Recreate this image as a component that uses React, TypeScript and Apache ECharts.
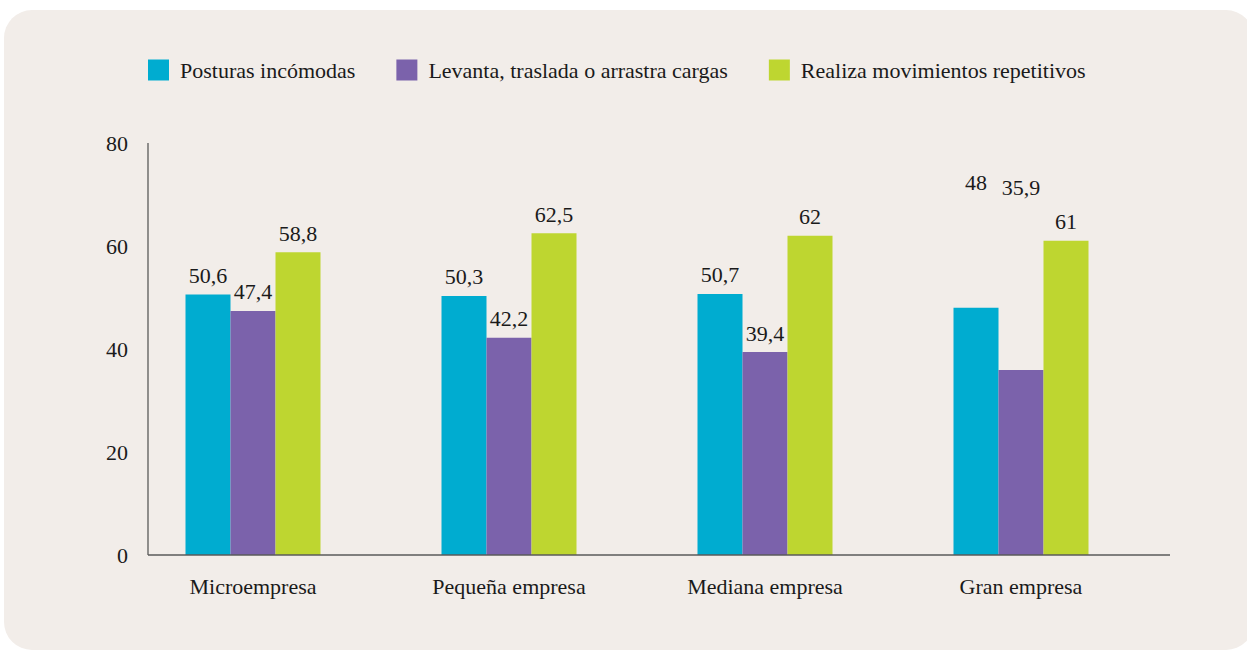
import React, { useEffect, useRef } from "react";
import * as echarts from "echarts";

const categories = ["Microempresa", "Pequeña empresa", "Mediana empresa", "Gran empresa"];
const seriesNames = [
  "Posturas incómodas",
  "Levanta, traslada o arrastra cargas",
  "Realiza movimientos repetitivos",
];
const posturas = [50.6, 50.3, 50.7, 48];
const levanta = [47.4, 42.2, 39.4, 35.9];
const repetitivos = [58.8, 62.5, 62, 61];
const colors = ["#00acd0", "#7b62ab", "#bed630"];
// label offsets reproduce the displaced labels of the reference (Gran empresa)
const labelOffsets: number[][][] = [
  [[0, 0], [0, 0], [0, 0], [0, -106]],
  [[0, 0], [0, 0], [0, 0], [0, -164]],
  [[0, 0], [0, 0], [0, 0], [0, 0]],
];

const FONT = "'Liberation Serif', 'Times New Roman', serif";

export default function App() {
  const ref = useRef<HTMLDivElement>(null);
  useEffect(() => {
    if (!ref.current) return;
    const chart = echarts.init(ref.current, null, { renderer: "svg" });
    const allData = [posturas, levanta, repetitivos];
    const fmt = (v: number) => String(v).replace(".", ",");
    chart.setOption({
      animation: false,
      backgroundColor: "#ffffff",
      textStyle: { fontFamily: FONT },
      graphic: [
        {
          type: "rect",
          z: -10,
          silent: true,
          shape: { x: 4, y: 10, width: 1250, height: 640, r: 28 },
          style: { fill: "#f2ede9" },
        },
        {
          type: "line",
          z: 10,
          silent: true,
          shape: { x1: 148, y1: 143, x2: 148, y2: 555 },
          style: { stroke: "#5a5a5a", lineWidth: 1.3 },
        },
        {
          type: "line",
          z: 10,
          silent: true,
          shape: { x1: 148, y1: 555, x2: 1170, y2: 555 },
          style: { stroke: "#5a5a5a", lineWidth: 1.3 },
        },
      ],
      legend: {
        left: 148,
        top: 59,
        padding: 0,
        itemWidth: 21,
        itemHeight: 21,
        itemGap: 41,
        icon: "rect",
        textStyle: { fontFamily: FONT, fontSize: 22, color: "#1a1a1a", padding: [0, 0, 0, 6] },
        data: seriesNames,
      },
      grid: { left: 125, right: 98, top: 143, bottom: 96 },
      xAxis: {
        type: "category",
        data: categories,
        axisLine: { show: false },
        axisTick: { show: false },
        axisLabel: { fontFamily: FONT, fontSize: 22, color: "#1a1a1a", margin: 20 },
      },
      yAxis: {
        type: "value",
        min: 0,
        max: 80,
        interval: 20,
        offset: -23,
        axisLine: { show: false },
        axisTick: { show: false },
        splitLine: { show: false },
        axisLabel: { fontFamily: FONT, fontSize: 22, color: "#1a1a1a", margin: 20 },
      },
      series: seriesNames.map((name, si) => ({
        name,
        type: "bar",
        barWidth: 45,
        barGap: "0%",
        itemStyle: { color: colors[si] },
        label: {
          show: true,
          position: "top",
          distance: 8,
          fontFamily: FONT,
          fontSize: 22,
          color: "#1a1a1a",
          formatter: (p: any) => fmt(p.value),
        },
        data: allData[si].map((v, i) => ({
          value: v,
          label: { offset: labelOffsets[si][i] },
        })),
      })),
    });
    return () => chart.dispose();
  }, []);
  return (
    <div
      ref={ref}
      style={{ position: "absolute", left: 0, top: 0, width: 1247, height: 651 }}
    />
  );
}
